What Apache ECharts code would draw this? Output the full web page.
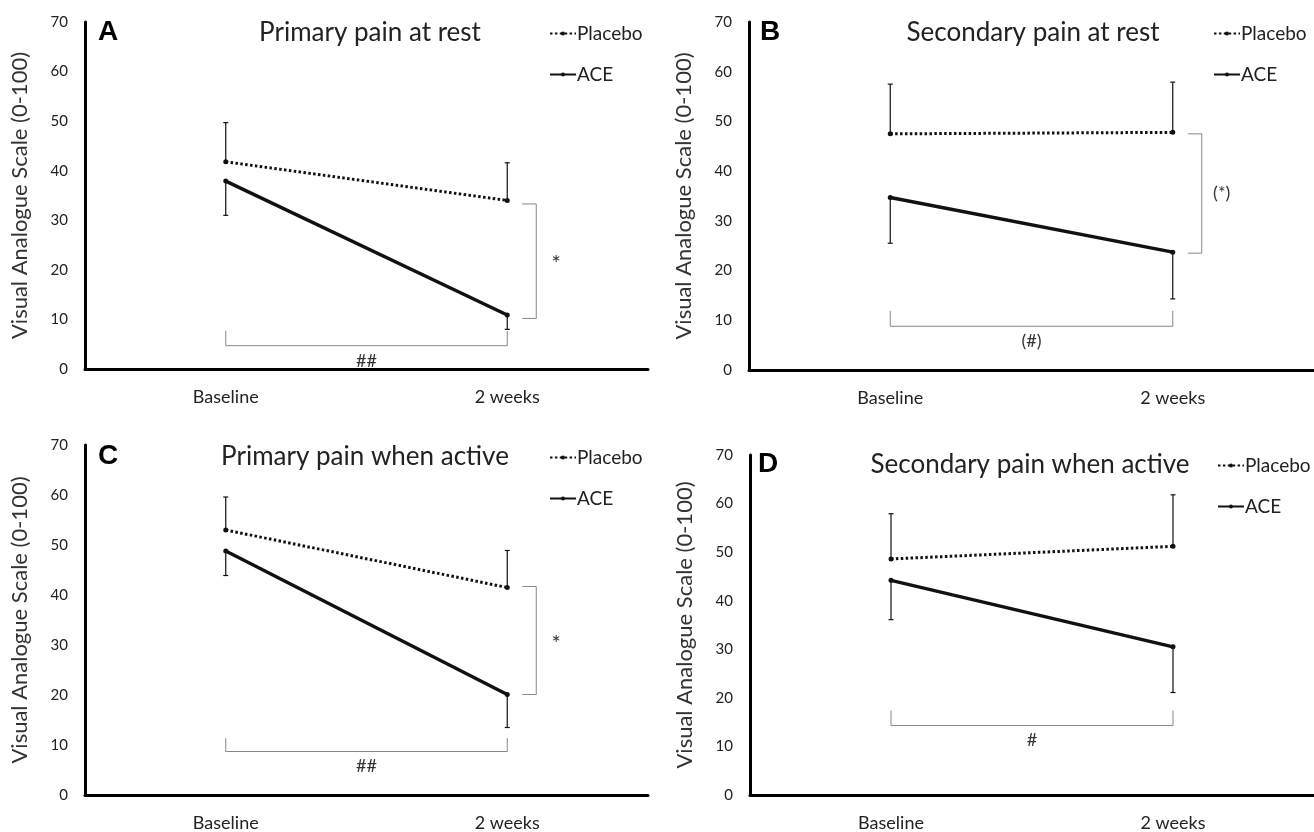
<!DOCTYPE html>
<html>
<head>
<meta charset="utf-8">
<script src="https://cdn.jsdelivr.net/npm/echarts@6/dist/echarts.min.js"></script>
<style>
  html, body { margin: 0; padding: 0; background: #fff; }
  #chart { width: 1314px; height: 832px; }
</style>
</head>
<body>
<div id="chart"></div>
<script>
// ---------- DATA ----------
const categories = ['Baseline', '2 weeks'];
const panelLetters = ['A', 'B', 'C', 'D'];
const panelTitles = ['Primary pain at rest', 'Secondary pain at rest', 'Primary pain when active', 'Secondary pain when active'];
const yAxisTitle = 'Visual Analogue Scale (0-100)';

// mean values per panel [Baseline, 2 weeks]
const placeboA = [41.8, 34.0];
const aceA = [37.9, 10.9];
const placeboB = [47.5, 47.8];
const aceB = [34.7, 23.7];
const placeboC = [53.0, 41.5];
const aceC = [48.8, 20.1];
const placeboD = [48.6, 51.2];
const aceD = [44.2, 30.5];

// error bar sizes (placebo drawn upward, ACE drawn downward)
const placeboErrA = [7.9, 7.6];
const aceErrA = [6.9, 2.9];
const placeboErrB = [10.0, 10.1];
const aceErrB = [9.2, 9.4];
const placeboErrC = [6.6, 7.4];
const aceErrC = [4.9, 6.6];
const placeboErrD = [9.3, 10.6];
const aceErrD = [8.1, 9.4];

// within-group bracket (Baseline vs 2 weeks): [bar level, tick top]
const withinLabels = ['##', '(#)', '##', '#'];
const withinLevels = [[4.7, 7.7], [8.8, 11.9], [8.7, 11.4], [14.3, 17.4]];
// between-group bracket at 2 weeks: [top, bottom]
const betweenLabels = ['*', '(*)', '*', null];
const betweenLevels = [[33.3, 10.2], [47.5, 23.5], [41.7, 20.1], null];

const placeboAll = [placeboA, placeboB, placeboC, placeboD];
const aceAll = [aceA, aceB, aceC, aceD];
const placeboErrAll = [placeboErrA, placeboErrB, placeboErrC, placeboErrD];
const aceErrAll = [aceErrA, aceErrB, aceErrC, aceErrD];

// ---------- LAYOUT ----------
const FONT = 'Lato, "Open Sans", sans-serif';
const grids = [
  { left: 85, top: 22, width: 563, height: 347 },
  { left: 749, top: 22, width: 565, height: 348 },
  { left: 85, top: 445, width: 563, height: 350 },
  { left: 750, top: 455, width: 564, height: 341 }
];
const titlePos = [
  { letterX: 98, titleX: 370, y: 33, legX: 544, legY: 19 },
  { letterX: 760, titleX: 1033, y: 33, legX: 1208, legY: 19 },
  { letterX: 98, titleX: 365, y: 457, legX: 544, legY: 443 },
  { letterX: 758, titleX: 1030, y: 465, legX: 1212, legY: 451 }
];

const chart = echarts.init(document.getElementById('chart'), null, { renderer: 'canvas' });

const xAxes = [], yAxes = [], series = [], legends = [], graphics = [];

function errorBarRender(dir) {
  return function (params, api) {
    const x = api.value(0);
    const m = api.value(1);
    const e = api.value(2);
    const p0 = api.coord([x, m]);
    const p1 = api.coord([x, m + dir * e]);
    return {
      type: 'group',
      children: [
        { type: 'line', shape: { x1: p0[0], y1: p0[1], x2: p1[0], y2: p1[1] }, style: { stroke: '#111', lineWidth: 1.2 } },
        { type: 'line', shape: { x1: p1[0] - 2.5, y1: p1[1], x2: p1[0] + 2.5, y2: p1[1] }, style: { stroke: '#111', lineWidth: 1.2 } }
      ]
    };
  };
}

for (let i = 0; i < 4; i++) {
  xAxes.push({
    type: 'category', gridIndex: i, data: categories, boundaryGap: true,
    axisLine: { show: true, lineStyle: { color: '#000', width: 3 } },
    axisTick: { show: false },
    axisLabel: { margin: 19, fontSize: 18, color: '#222', fontFamily: FONT }
  });
  yAxes.push({
    type: 'value', gridIndex: i, min: 0, max: 70, interval: 10,
    name: yAxisTitle, nameLocation: 'middle', nameRotate: 90, nameGap: 54,
    nameTextStyle: { fontSize: 22, color: '#333', fontFamily: FONT },
    axisLine: { show: true, lineStyle: { color: '#000', width: 3 } },
    axisTick: { show: false },
    splitLine: { show: false },
    axisLabel: { margin: 17, fontSize: 15, color: '#222', fontFamily: FONT }
  });

  // error bars
  series.push({
    type: 'custom', xAxisIndex: i, yAxisIndex: i, silent: true, z: 2,
    renderItem: errorBarRender(1),
    data: categories.map((c, k) => [k, placeboAll[i][k], placeboErrAll[i][k]])
  });
  series.push({
    type: 'custom', xAxisIndex: i, yAxisIndex: i, silent: true, z: 2,
    renderItem: errorBarRender(-1),
    data: categories.map((c, k) => [k, aceAll[i][k], aceErrAll[i][k]])
  });

  // lines
  series.push({
    name: 'Placebo', type: 'line', xAxisIndex: i, yAxisIndex: i, z: 3,
    data: placeboAll[i], symbol: 'circle', symbolSize: 5,
    itemStyle: { color: '#111' },
    lineStyle: { color: '#111', width: 3, type: [2.5, 2.4] }
  });
  series.push({
    name: 'ACE', type: 'line', xAxisIndex: i, yAxisIndex: i, z: 3,
    data: aceAll[i], symbol: 'circle', symbolSize: 5,
    itemStyle: { color: '#111' },
    lineStyle: { color: '#111', width: 3.4, type: 'solid' }
  });

  // within-group bracket
  const wLabel = withinLabels[i];
  series.push({
    type: 'custom', xAxisIndex: i, yAxisIndex: i, silent: true, z: 1,
    renderItem: function (params, api) {
      const a = api.coord([0, api.value(0)]);
      const b = api.coord([1, api.value(0)]);
      const t = api.coord([0, api.value(1)]);
      return {
        type: 'group',
        children: [
          { type: 'polyline', shape: { points: [[a[0], t[1]], [a[0], a[1]], [b[0], b[1]], [b[0], t[1]]] },
            style: { stroke: '#888', lineWidth: 1, fill: null } },
          { type: 'text', style: { text: wLabel, x: (a[0] + b[0]) / 2, y: a[1] + 15, align: 'center', verticalAlign: 'middle',
            font: '18px ' + FONT, fill: '#333' } }
        ]
      };
    },
    data: [withinLevels[i]]
  });

  // between-group bracket
  if (betweenLevels[i]) {
    const bLabel = betweenLabels[i];
    const bFont = bLabel === '*' ? '22px ' : '18px ';
    series.push({
      type: 'custom', xAxisIndex: i, yAxisIndex: i, silent: true, z: 1,
      renderItem: function (params, api) {
        const top = api.coord([1, api.value(0)]);
        const bot = api.coord([1, api.value(1)]);
        const x0 = top[0] + 15, x1 = top[0] + 29;
        return {
          type: 'group',
          children: [
            { type: 'polyline', shape: { points: [[x0, top[1]], [x1, top[1]], [x1, bot[1]], [x0, bot[1]]] },
              style: { stroke: '#888', lineWidth: 1, fill: null } },
            { type: 'text', style: { text: bLabel, x: top[0] + 49, y: (top[1] + bot[1]) / 2 + (bLabel === '*' ? 3 : 0), align: 'center', verticalAlign: 'middle',
              font: bFont + FONT, fill: '#333' } }
          ]
        };
      },
      data: [betweenLevels[i]]
    });
  }

  const tp = titlePos[i];
  legends.push({
    data: ['Placebo', 'ACE'], orient: 'vertical', left: tp.legX, top: tp.legY,
    itemWidth: 26, itemHeight: 5, itemGap: 22, selectedMode: false,
    textStyle: { fontSize: 19, color: '#222', fontFamily: FONT, padding: [0, 0, 0, -4] }
  });
  graphics.push({
    type: 'text', left: tp.letterX, top: tp.y - 15,
    style: { text: panelLetters[i], font: 'bold 28px "Liberation Sans", Arial, sans-serif', fill: '#000' }
  });
  graphics.push({
    type: 'text', x: tp.titleX, y: tp.y,
    style: { text: panelTitles[i], font: '26px ' + FONT, fill: '#222', align: 'center', verticalAlign: 'middle' }
  });
}

chart.setOption({
  backgroundColor: '#fff',
  animation: false,
  grid: grids,
  xAxis: xAxes,
  yAxis: yAxes,
  legend: legends,
  series: series,
  graphic: graphics
});
</script>
</body>
</html>
